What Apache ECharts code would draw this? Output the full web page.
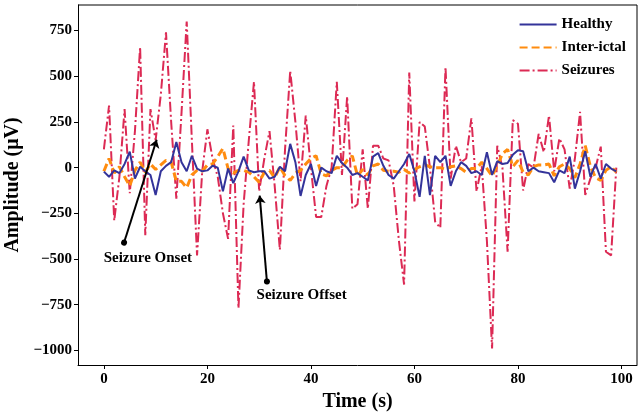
<!DOCTYPE html>
<html>
<head>
<meta charset="utf-8">
<script src="https://cdn.jsdelivr.net/npm/echarts@6/dist/echarts.min.js"></script>
<style>
  html, body { margin: 0; padding: 0; background: #fff; }
  #chart { width: 639px; height: 414px; }
</style>
</head>
<body>
<div id="chart"></div>
<script>
// time axis 0..99 s
const timeSec = Array.from({ length: 100 }, (_, i) => i);

const healthy = [
  -22, -50, -15, -30, 20, 87, -60, 5, -20, -40,
  -150, -20, 10, 30, 140, 30, -20, 65, -5, -20,
  -15, 10, 0, -130, -5, -85, -20, 60, -15, -25,
  -20, -20, -60, -50, 5, -20, 130, 30, -155, -40,
  20, -100, 0, -20, -30, 65, 25, 0, -40, -30,
  -50, -70, 60, 80, 10, -40, -60, -20, 20, 75,
  -20, -160, 65, -150, 65, 30, 65, -100, -20, 30,
  10, -30, -20, -40, 85, -40, 35, 20, 25, 70,
  95, 90, -20, 0, -20, -25, -30, -80, -15, -30,
  60, -115, -20, 90, -50, 20, -60, 20, -5, -20
];

const interIctal = [
  -20, 50, -30, 5, -50, -100, -15, 30, -25, 20,
  -10, 15, 40, 30, -75, -75, -110, -40, -15, -20,
  15, 20, 60, 105, -5, -30, -15, -15, -25, -50,
  -80, -25, -15, -55, 5, -45, -70, -30, -15, 20,
  50, 65, -35, -45, -15, 0, 0, 40, 65, -45,
  -10, -40, 10, 20, -15, -20, -20, -25, -10, -30,
  -10, 5, 15, 5, 0, 0, -10, 5, 10, -5,
  -25, -5, -5, 30, -5, -45, 10, 75, 100, 5,
  40, -25, -40, 5, 15, 15, 20, -45, 5, 20,
  -5, -55, 20, 120, 5, -55, -70, -15, 5, -25
];

const seizures = [
  100, 340, -290, -50, 320, -140, 200, 660, -370, 320,
  150, 400, 740, 250, -170, 300, 800, 150, -480, -20,
  210, 50, -50, -250, -390, 230, -770, -200, 150, 470,
  -130, 50, 200, -100, -450, 100, 530, 250, -75, 285,
  0, -270, -270, -100, 0, 470, -40, 390, -225, -200,
  100, -225, 120, 120, 50, 40, -100, -400, -640, 520,
  -185, 250, 225, 0, -295, -330, 550, -60, 120, 30,
  50, 270, -130, 10, -400, -990, 120, 0, -460, 260,
  240, -125, 20, 0, 185, 85, 285, -20, 160, 100,
  -115, 50, 305, -150, -60, 0, 115, -460, -480, 0
];

const yTicks = [-1000, -750, -500, -250, 0, 250, 500, 750];
const xTicks = [0, 20, 40, 60, 80, 100];

// annotations: label, text centre, dot position, arrow tip
const annotations = [
  { name: 'Seizure Onset', text: [8.5, -497], from: [3.9, -410], to: [10.2, 153] },
  { name: 'Seizure Offset', text: [38.2, -700], from: [31.5, -623], to: [30.1, -153] }
];

const SERIF = '"Liberation Serif", "DejaVu Serif", serif';
const fmtMinus = (v) => String(v).replace('-', '\u2212');

const chart = echarts.init(document.getElementById('chart'));

const pair = (ys) => ys.map((y, i) => [timeSec[i], y]);

chart.setOption({
  animation: false,
  grid: { left: 78, right: 2, top: 5, bottom: 49, containLabel: false, outerBoundsMode: 'none' },
  legend: {
    data: ['Healthy', 'Inter-ictal', 'Seizures'],
    orient: 'vertical',
    right: 8,
    top: 12,
    itemGap: 8,
    itemWidth: 37,
    itemHeight: 14,
    itemStyle: { opacity: 0 },
    textStyle: { fontFamily: SERIF, fontWeight: 'bold', fontSize: 15, color: '#000' }
  },
  xAxis: {
    type: 'value',
    min: -5,
    max: 103,
    name: 'Time (s)',
    nameLocation: 'middle',
    nameGap: 25,
    nameTextStyle: { fontFamily: SERIF, fontWeight: 'bold', fontSize: 20, color: '#000' },
    axisLine: { onZero: false, lineStyle: { color: '#000', width: 1 } },
    axisTick: { show: true, customValues: xTicks, length: 4, lineStyle: { color: '#000' } },
    axisLabel: { customValues: xTicks, fontFamily: SERIF, fontWeight: 'bold', fontSize: 15, color: '#000', margin: 7 },
    splitLine: { show: false }
  },
  yAxis: {
    type: 'value',
    min: -1080,
    max: 890,
    name: 'Amplitude (\u03bcV)',
    nameLocation: 'middle',
    nameGap: 48,
    nameTextStyle: { fontFamily: SERIF, fontWeight: 'bold', fontSize: 20, color: '#000' },
    axisLine: { show: true, onZero: false, lineStyle: { color: '#000', width: 1 } },
    axisTick: { show: true, customValues: yTicks, length: 4, lineStyle: { color: '#000' } },
    axisLabel: { customValues: yTicks, formatter: fmtMinus, fontFamily: SERIF, fontWeight: 'bold', fontSize: 15, color: '#000', margin: 6 },
    splitLine: { show: false }
  },
  graphic: [
    // top and right spines
    { type: 'line', shape: { x1: 78, y1: 5, x2: 637, y2: 5 }, style: { stroke: '#000', lineWidth: 1 }, silent: true },
    { type: 'line', shape: { x1: 637, y1: 5, x2: 637, y2: 365 }, style: { stroke: '#000', lineWidth: 1 }, silent: true }
  ],
  series: [
    {
      name: 'Healthy',
      type: 'line',
      data: pair(healthy),
      symbol: 'none',
      z: 4,
      lineStyle: { color: '#33339a', width: 2 },
      itemStyle: { color: '#33339a' }
    },
    {
      name: 'Inter-ictal',
      type: 'line',
      data: pair(interIctal),
      symbol: 'none',
      z: 3,
      lineStyle: { color: '#ff8c0f', width: 3, type: [8, 4] },
      itemStyle: { color: '#ff8c0f' }
    },
    {
      name: 'Seizures',
      type: 'line',
      data: pair(seizures),
      symbol: 'none',
      z: 2,
      lineStyle: { color: '#dc2a54', width: 2, type: [10, 3, 2, 3] },
      itemStyle: { color: '#dc2a54' }
    },
    {
      name: 'arrows',
      type: 'lines',
      coordinateSystem: 'cartesian2d',
      z: 10,
      symbol: ['circle', 'arrow'],
      symbolSize: [6, 8],
      lineStyle: { color: '#000', width: 2, opacity: 1 },
      data: annotations.map((a) => ({ coords: [a.from, a.to] }))
    },
    {
      name: 'notes',
      type: 'scatter',
      symbolSize: 0,
      z: 10,
      itemStyle: { opacity: 1 },
      data: annotations.map((a) => ({ value: a.text, name: a.name })),
      label: {
        show: true,
        position: 'inside',
        formatter: (p) => p.name,
        fontFamily: SERIF,
        fontWeight: 'bold',
        fontSize: 15,
        color: '#000',
        opacity: 1
      }
    }
  ]
});
</script>
</body>
</html>
